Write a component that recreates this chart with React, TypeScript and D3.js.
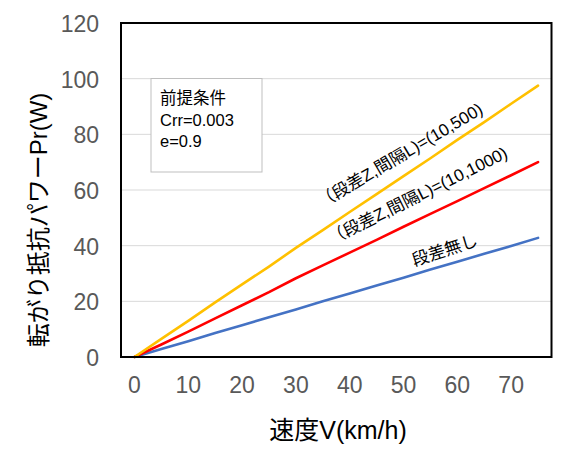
import { useEffect, useRef } from "react";
import * as d3 from "d3";

// speed categories (km/h), one point every 5
const SPEEDS = [0, 5, 10, 15, 20, 25, 30, 35, 40, 45, 50, 55, 60, 65, 70, 75];
const SPEED_TICKS = [0, 10, 20, 30, 40, 50, 60, 70];
const POWER_TICKS = [0, 20, 40, 60, 80, 100, 120];

// rolling resistance power Pr (W)
const STEP_500 = [0, 6.5, 13.0, 19.6, 26.1, 32.5, 39.2, 45.6, 52.1, 58.5, 65.0, 71.4, 78.0, 84.4, 91.0, 97.5];
const STEP_1000 = [0, 4.5, 9.1, 13.9, 18.6, 23.3, 28.3, 32.9, 37.5, 42.1, 46.8, 51.4, 56.0, 60.7, 65.3, 70.0];
const NO_STEP = [0, 2.9, 5.7, 8.6, 11.4, 14.3, 17.1, 20.0, 22.8, 25.7, 28.5, 31.4, 34.2, 37.1, 39.9, 42.8];

const SERIES = [
  { name: "（段差Z,間隔L)=(10,500)", values: STEP_500, color: "#FFC000", lv: 49.9, lp: 70.6, angle: -30.5 },
  { name: "（段差Z,間隔L)=(10,1000)", values: STEP_1000, color: "#FF0000", lv: 53.1, lp: 56.1, angle: -26.3 },
  { name: "段差無し", values: NO_STEP, color: "#4472C4", lv: 58.0, lp: 36.4, angle: -18 },
];

const NOTE_LINES = ["前提条件", "Crr=0.003", "e=0.9"];

const FONT = "'Liberation Sans', Arial, 'Noto Sans CJK JP', sans-serif";

export default function App() {
  const svgRef = useRef<SVGSVGElement>(null);

  useEffect(() => {
    if (!svgRef.current) return;
    const width = 582;
    const height = 458;
    const plot = { left: 121, top: 23, right: 551.5, bottom: 357 };

    const svg = d3.select(svgRef.current);
    svg.selectAll("*").remove();
    svg.attr("width", width).attr("height", height);

    svg.append("rect").attr("width", width).attr("height", height).attr("fill", "#fff");

    const x = d3.scalePoint<number>().domain(SPEEDS).range([plot.left, plot.right]).padding(0.5);
    // linear helper for labels placed between categories
    const xv = d3.scaleLinear()
      .domain([SPEEDS[0], SPEEDS[SPEEDS.length - 1]])
      .range([x(SPEEDS[0])!, x(SPEEDS[SPEEDS.length - 1])!]);
    const y = d3.scaleLinear().domain([0, 120]).range([plot.bottom, plot.top]);

    // grid
    svg.append("g")
      .selectAll("line")
      .data(POWER_TICKS.filter((t) => t > 0 && t < 120))
      .join("line")
      .attr("x1", plot.left)
      .attr("x2", plot.right)
      .attr("y1", (d) => y(d))
      .attr("y2", (d) => y(d))
      .attr("stroke", "#D9D9D9")
      .attr("stroke-width", 1);

    // y tick labels
    svg.append("g")
      .selectAll("text")
      .data(POWER_TICKS)
      .join("text")
      .attr("x", 99)
      .attr("y", (d) => y(d) + 1)
      .attr("text-anchor", "end")
      .attr("dominant-baseline", "central")
      .attr("fill", "#595959")
      .attr("font-size", "23px")
      .attr("font-family", FONT)
      .text((d) => d);

    // x tick labels
    svg.append("g")
      .selectAll("text")
      .data(SPEED_TICKS)
      .join("text")
      .attr("x", (d) => x(d)!)
      .attr("y", 385)
      .attr("text-anchor", "middle")
      .attr("dominant-baseline", "central")
      .attr("fill", "#595959")
      .attr("font-size", "23px")
      .attr("font-family", FONT)
      .text((d) => d);

    // lines
    const line = d3.line<number>()
      .x((_, i) => x(SPEEDS[i])!)
      .y((d) => y(d));

    SERIES.slice().reverse().forEach((s) => {
      svg.append("path")
        .datum(s.values)
        .attr("fill", "none")
        .attr("stroke", s.color)
        .attr("stroke-width", 2.6)
        .attr("stroke-linejoin", "round")
        .attr("stroke-linecap", "round")
        .attr("d", line);
    });

    // series labels along the lines
    SERIES.forEach((s) => {
      const lx = xv(s.lv);
      const ly = y(s.lp);
      svg.append("text")
        .attr("transform", `translate(${lx},${ly}) rotate(${s.angle})`)
        .attr("text-anchor", "middle")
        .attr("fill", "#000")
        .attr("font-size", "17px")
        .attr("font-family", FONT)
        .text(s.name);
    });

    // frame
    svg.append("rect")
      .attr("x", plot.left)
      .attr("y", plot.top)
      .attr("width", plot.right - plot.left)
      .attr("height", plot.bottom - plot.top)
      .attr("fill", "none")
      .attr("stroke", "#000")
      .attr("stroke-width", 2);

    // conditions box
    const note = svg.append("g");
    note.append("rect")
      .attr("x", 151)
      .attr("y", 78.5)
      .attr("width", 111)
      .attr("height", 93.5)
      .attr("fill", "#fff")
      .attr("stroke", "#BFBFBF")
      .attr("stroke-width", 1);
    NOTE_LINES.forEach((t, i) => {
      note.append("text")
        .attr("x", 160)
        .attr("y", 104 + i * 21.5)
        .attr("fill", "#000")
        .attr("font-size", "16.5px")
        .attr("font-family", FONT)
        .text(t);
    });

    // axis titles
    svg.append("text")
      .attr("x", 338)
      .attr("y", 430)
      .attr("text-anchor", "middle")
      .attr("dominant-baseline", "central")
      .attr("fill", "#000")
      .attr("font-size", "25px")
      .attr("font-family", FONT)
      .text("速度V(km/h)");

    svg.append("text")
      .attr("transform", "translate(38,220) rotate(-90)")
      .attr("text-anchor", "middle")
      .attr("dominant-baseline", "central")
      .attr("fill", "#000")
      .attr("font-size", "24px")
      .attr("font-family", FONT)
      .text("転がり抵抗パワーPr(W)");
  }, []);

  return (
    <div style={{ position: "absolute", left: 0, top: 0 }}>
      <svg ref={svgRef} style={{ display: "block" }} />
    </div>
  );
}
